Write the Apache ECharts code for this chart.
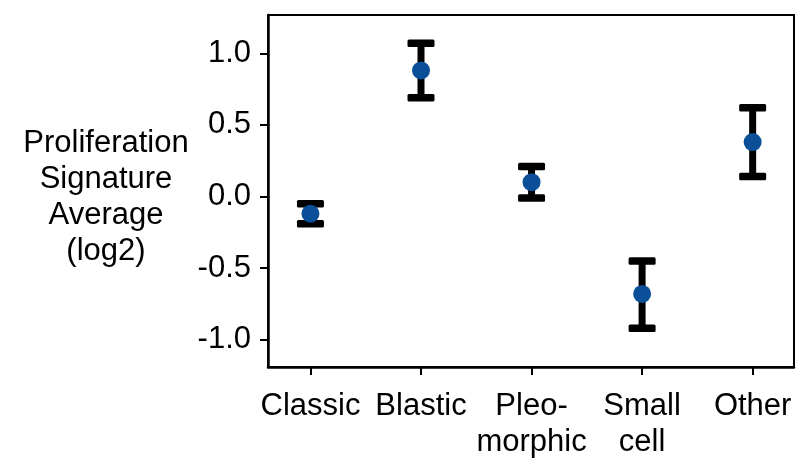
<!DOCTYPE html>
<html>
<head>
<meta charset="utf-8">
<script src="https://cdn.jsdelivr.net/npm/echarts@6/dist/echarts.min.js"></script>
<style>
  html, body { margin: 0; padding: 0; background: #fff; }
  #chart { width: 810px; height: 469px; }
</style>
</head>
<body>
<div id="chart"></div>
<script>
// categories and values
var categories = ['Classic', 'Blastic', 'Pleo-\nmorphic', 'Small\ncell', 'Other'];
var means = [-0.12, 0.88, 0.10, -0.68, 0.38];
var lows = [-0.19, 0.69, -0.01, -0.92, 0.14];
var highs = [-0.05, 1.07, 0.21, -0.45, 0.62];
var yTicks = [-1.0, -0.5, 0.0, 0.5, 1.0];
var yTitle = 'Proliferation\nSignature\nAverage\n(log2)';

var font = '"Liberation Sans", Arial, sans-serif';
var xTicks = categories.map(function(c, i) { return i; });

var barData = [];
var pointData = [];
for (var i = 0; i < categories.length; i++) {
    barData.push([i, lows[i], highs[i]]);
    pointData.push([i, means[i]]);
}

var chart = echarts.init(document.getElementById('chart'));
var option = {
    animation: false,
    backgroundColor: '#fff',
    grid: {
        left: 268,
        right: 16,
        top: 15,
        bottom: 102,
        show: true,
        borderColor: '#000',
        borderWidth: 2
    },
    // y axis title, centred block left of the axis
    graphic: [{
        type: 'text',
        x: 106,
        y: 125,
        style: {
            text: yTitle,
            fontFamily: font,
            fontSize: 31,
            lineHeight: 36,
            fill: '#000',
            align: 'center',
            verticalAlign: 'top'
        }
    }],
    xAxis: {
        type: 'value',
        min: -0.384,
        max: 4.374,
        splitLine: { show: false },
        axisLine: { show: true, onZero: false, lineStyle: { color: '#000', width: 2.5 } },
        axisTick: {
            show: true,
            customValues: xTicks,
            length: 8,
            lineStyle: { color: '#000', width: 2 }
        },
        axisLabel: {
            customValues: xTicks,
            margin: 21,
            fontFamily: font,
            fontSize: 31,
            lineHeight: 36,
            color: '#000',
            formatter: function(v) {
                return categories[Math.round(v)];
            }
        }
    },
    yAxis: {
        type: 'value',
        min: -1.19,
        max: 1.267,
        splitLine: { show: false },
        axisLine: { show: true, onZero: false, lineStyle: { color: '#000', width: 2.5 } },
        axisTick: {
            show: true,
            customValues: yTicks,
            length: 8,
            lineStyle: { color: '#000', width: 2 }
        },
        axisLabel: {
            customValues: yTicks,
            margin: 17,
            fontFamily: font,
            fontSize: 31,
            color: '#000',
            formatter: function(v) {
                return v.toFixed(1);
            }
        }
    },
    series: [
        {
            type: 'custom',
            data: barData,
            encode: { x: 0, y: [1, 2] },
            z: 2,
            renderItem: function(params, api) {
                var x = api.value(0);
                var pLo = api.coord([x, api.value(1)]);
                var pHi = api.coord([x, api.value(2)]);
                var capW = 27, capH = 7.5, stemW = 7;
                return {
                    type: 'group',
                    children: [
                        {
                            type: 'rect',
                            shape: { x: pLo[0] - stemW / 2, y: pHi[1], width: stemW, height: pLo[1] - pHi[1] },
                            style: { fill: '#000' }
                        },
                        {
                            type: 'rect',
                            shape: { x: pHi[0] - capW / 2, y: pHi[1] - capH / 2, width: capW, height: capH, r: 1.5 },
                            style: { fill: '#000' }
                        },
                        {
                            type: 'rect',
                            shape: { x: pLo[0] - capW / 2, y: pLo[1] - capH / 2, width: capW, height: capH, r: 1.5 },
                            style: { fill: '#000' }
                        }
                    ]
                };
            }
        },
        {
            type: 'scatter',
            data: pointData,
            symbol: 'circle',
            symbolSize: 18,
            z: 3,
            itemStyle: { color: '#0b4f99', opacity: 1 }
        }
    ]
};
chart.setOption(option);
</script>
</body>
</html>
